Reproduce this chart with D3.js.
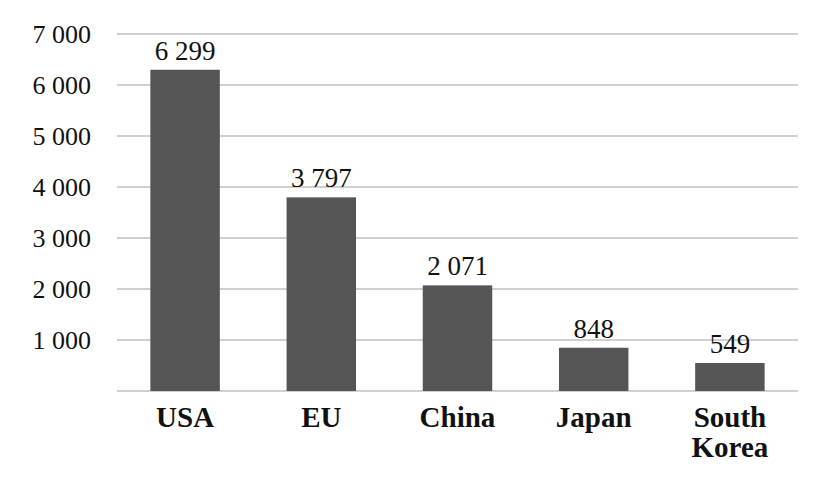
<!DOCTYPE html>
<html><head><meta charset="utf-8">
<script src="https://cdn.jsdelivr.net/npm/d3@7"></script>
<style>body{margin:0;background:#fff}svg{display:block}
svg text{font-family:"Liberation Serif","Times New Roman",Tinos,"DejaVu Serif",serif;}
</style>
</head><body>
<script>
const categories = ["USA", "EU", "China", "Japan", "South Korea"];
const values = [6299, 3797, 2071, 848, 549];
const yTicks = [1000, 2000, 3000, 4000, 5000, 6000, 7000];

const W = 833, H = 479;
const m = {left: 117, right: 35, top: 34, bottom: 88};
const svg = d3.select("body").append("svg").attr("width", W).attr("height", H);
const fmt = v => d3.format(",")(v).replace(/,/g, " ");

const x = d3.scaleBand().domain(categories).range([m.left, W - m.right]).paddingInner(0.49).paddingOuter(0.245);
const y = d3.scaleLinear().domain([0, 7000]).range([H - m.bottom, m.top]);

// gridlines
svg.append("g").selectAll("line").data([0, ...yTicks]).join("line")
  .attr("x1", m.left).attr("x2", W - m.right)
  .attr("y1", d => y(d)).attr("y2", d => y(d))
  .attr("stroke", "#c0c0c0").attr("stroke-width", 1.4);

// y axis labels
const yAxis = d3.axisLeft(y).tickValues(yTicks).tickFormat(fmt).tickSize(0).tickPadding(26);
const ga = svg.append("g").attr("transform", `translate(${m.left},0)`).call(yAxis);
ga.select(".domain").remove();
ga.attr("font-family", null);
ga.selectAll("text").attr("font-size", 26).attr("fill", "#111").attr("dy", "0.34em");

// bars
svg.append("g").selectAll("rect").data(values).join("rect")
  .attr("x", (d, i) => x(categories[i])).attr("width", x.bandwidth())
  .attr("y", d => y(d)).attr("height", d => y(0) - y(d))
  .attr("fill", "#555555");

// value labels
svg.append("g").selectAll("text").data(values).join("text")
  .attr("x", (d, i) => x(categories[i]) + x.bandwidth() / 2)
  .attr("y", d => y(d) - 10)
  .attr("text-anchor", "middle")
  .attr("font-size", 27).attr("fill", "#111")
  .text(fmt);

// category labels
const cl = svg.append("g").selectAll("text").data(categories).join("text")
  .attr("x", d => x(d) + x.bandwidth() / 2)
  .attr("y", 427)
  .attr("text-anchor", "middle")
  .attr("font-weight", "bold").attr("font-size", 29).attr("fill", "#111");
cl.each(function(d) {
  const words = d.split(" ");
  const t = d3.select(this);
  if (words.length === 1) { t.text(d); return; }
  const cx = t.attr("x");
  words.forEach((w, i) => t.append("tspan").attr("x", cx).attr("dy", i ? 30 : 0).text(w));
});
</script>
</body></html>
